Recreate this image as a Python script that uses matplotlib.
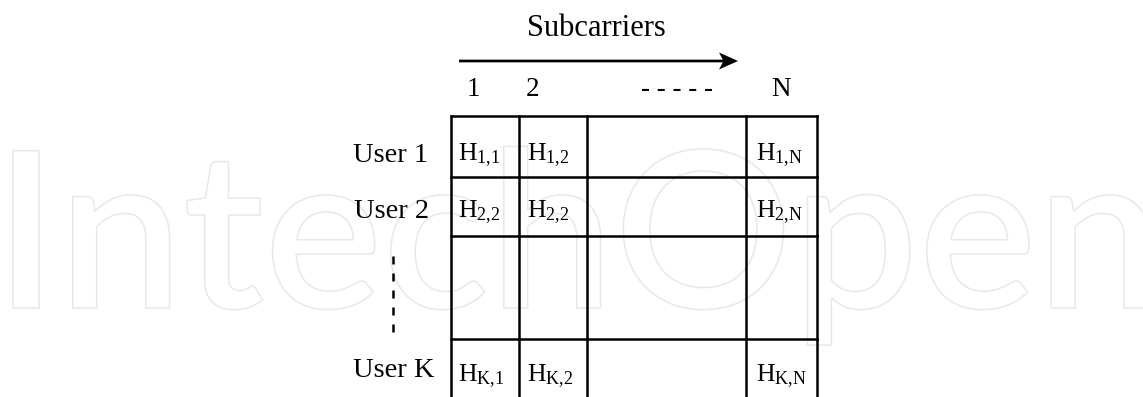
"""Channel-gain grid: K users x N subcarriers, with the IntechOpen outline watermark."""
import matplotlib
matplotlib.use("Agg")
import matplotlib.pyplot as plt
from matplotlib.font_manager import FontProperties
from matplotlib.patches import PathPatch
from matplotlib.textpath import TextPath
from matplotlib.transforms import Affine2D

# --- content -------------------------------------------------------------
AXIS_TITLE = "Subcarriers"
COL_LABELS = ["1", "2", "- - - - -", "N"]
ROW_LABELS = ["User 1", "User 2", "", "User K"]
# subscript of H in each cell ("" = empty cell); the 2,2 in row two is as printed
CELL_SUBS = [
    ["1{,}1", "1{,}2", "", "1{,}N"],
    ["2{,}2", "2{,}2", "", "2{,}N"],
    ["", "", "", ""],
    ["K{,}1", "K{,}2", "", "K{,}N"],
]
WATERMARK = "IntechOpen"

# --- layout (pixels, y downwards) ----------------------------------------
W, H = 1143, 397
COL_EDGES = [450.7, 519, 586.7, 745.7, 816.7]
ROW_EDGES = [116, 176.7, 236, 338.7, 400]
HEAD_X = [473, 533, 677, 780.7]
HEAD_Y = 95.7
CELL_X = [458, 527, 0, 756.5]
CELL_Y = [160, 217, 0, 381.5]
USER_X = [428, 429, 0, 434]
USER_Y = [162.5, 218.3, 0, 376.7]
INK = "#000000"
WM = "#e8e8e8"


def watermark(ax):
    prop = FontProperties(family="Lato", weight="semibold")
    tp = TextPath((0, 0), WATERMARK, size=100, prop=prop)
    cap = TextPath((0, 0), "I", size=100, prop=prop).get_extents().ymax
    ext = tp.get_extents()
    left, right, top, base = 13, 1148, 150.7, 308
    sx = (right - left) / (ext.xmax - ext.xmin)
    sy = (base - top) / cap
    tr = Affine2D().translate(-ext.xmin, 0).scale(sx, -sy).translate(left, base)
    ax.add_patch(PathPatch(tr.transform_path(tp), fc="none", ec=WM,
                           lw=1.1, zorder=0, transform=ax.transData))


def main():
    plt.rcParams["font.family"] = ["Liberation Serif", "DejaVu Serif"]
    plt.rcParams["mathtext.fontset"] = "custom"
    plt.rcParams["mathtext.rm"] = "Liberation Serif"
    plt.rcParams["mathtext.default"] = "rm"

    fig = plt.figure(figsize=(W / 100, H / 100), dpi=100)
    fig.patch.set_facecolor("white")
    ax = fig.add_axes([0, 0, 1, 1])
    ax.set_xlim(0, W)
    ax.set_ylim(H, 0)
    ax.axis("off")

    watermark(ax)

    # grid
    for x in COL_EDGES:
        ax.plot([x, x], [ROW_EDGES[0], ROW_EDGES[-1]], color=INK, lw=1.8,
                solid_capstyle="projecting", zorder=2)
    for y in ROW_EDGES:
        ax.plot([COL_EDGES[0], COL_EDGES[-1]], [y, y], color=INK, lw=1.8,
                solid_capstyle="projecting", zorder=2)

    # header: title, arrow, column labels
    ax.text(596, 35.7, AXIS_TITLE, fontsize=22, ha="center", va="baseline",
            color=INK)
    ax.arrow(459, 61, 279, 0, width=2.7, head_width=17, head_length=19,
             length_includes_head=True, overhang=0.2, fc=INK, ec="none",
             zorder=3)
    for x, lab in zip(HEAD_X, COL_LABELS):
        ax.text(x, HEAD_Y, lab, fontsize=19.5, ha="center", va="baseline",
                color=INK)

    # row labels + the dashed "..." between User 2 and User K
    for x, y, lab in zip(USER_X, USER_Y, ROW_LABELS):
        if lab:
            ax.text(x, y, lab, fontsize=20.5, ha="right", va="baseline",
                    color=INK)
    ax.plot([392.7, 392.7], [256, 332], color=INK, lw=1.8,
            linestyle=(0, (3.2, 3.6)), solid_capstyle="butt")

    # cells
    for i, row in enumerate(CELL_SUBS):
        for j, sub in enumerate(row):
            if sub:
                ax.text(CELL_X[j], CELL_Y[i], r"$\mathrm{H}_{%s}$" % sub,
                        fontsize=18.5, ha="left", va="baseline", color=INK)

    fig.savefig("out.png", dpi=100, facecolor="white")


if __name__ == "__main__":
    main()
